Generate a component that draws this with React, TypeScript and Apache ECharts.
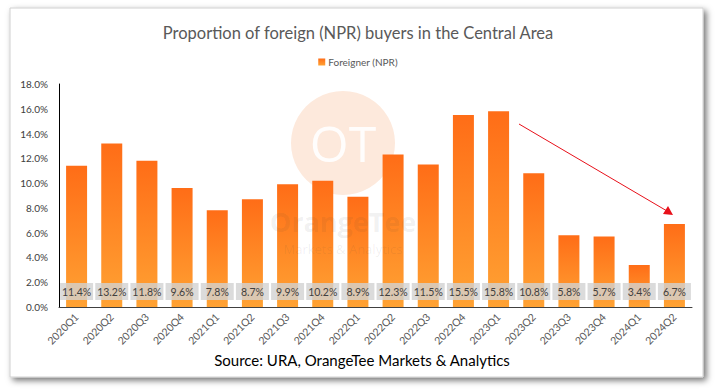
import React, { useEffect, useRef } from "react";
import * as echarts from "echarts";

const categories = [
  "2020Q1", "2020Q2", "2020Q3", "2020Q4",
  "2021Q1", "2021Q2", "2021Q3", "2021Q4",
  "2022Q1", "2022Q2", "2022Q3", "2022Q4",
  "2023Q1", "2023Q2", "2023Q3", "2023Q4",
  "2024Q1", "2024Q2",
];
const foreignerNPR = [
  11.4, 13.2, 11.8, 9.6, 7.8, 8.7, 9.9, 10.2, 8.9, 12.3, 11.5, 15.5, 15.8, 10.8, 5.8, 5.7, 3.4, 6.7,
];

const FONT = "Lato, 'Open Sans', sans-serif";

export default function App() {
  const ref = useRef<HTMLDivElement>(null);
  useEffect(() => {
    if (!ref.current) return;
    const chart = echarts.init(ref.current, undefined, { renderer: "svg" });
    chart.setOption({
      animation: false,
      backgroundColor: "#ffffff",
      title: {
        text: "Proportion of foreign (NPR) buyers in the Central Area",
        left: "center",
        top: 19,
        textStyle: { fontFamily: FONT, fontSize: 16.5, fontWeight: "normal", color: "#595959" },
      },
      legend: {
        top: 52,
        left: "center",
        itemWidth: 7,
        itemHeight: 7,
        itemGap: 4,
        icon: "rect",
        textStyle: { fontFamily: FONT, fontSize: 10, color: "#595959", padding: [0, 0, 0, -2] },
        data: ["Foreigner (NPR)"],
      },
      grid: { left: 59, right: 24, top: 84, bottom: 83 },
      xAxis: {
        type: "category",
        data: categories,
        axisLine: { lineStyle: { color: "#404040", width: 1 } },
        axisTick: { show: false },
        axisLabel: {
          rotate: 45,
          fontFamily: FONT,
          fontSize: 10.5,
          color: "#595959",
          margin: 8,
          interval: 0,
        },
      },
      yAxis: {
        type: "value",
        min: 0,
        max: 18,
        interval: 2,
        axisLine: { show: true, lineStyle: { color: "#000000", width: 1 } },
        axisTick: { show: false },
        splitLine: { show: false },
        axisLabel: {
          fontFamily: FONT,
          fontSize: 10,
          color: "#404040",
          margin: 11,
          formatter: (v: number) => v.toFixed(1) + "%",
        },
      },
      series: [
        {
          name: "Foreigner (NPR)",
          type: "bar",
          data: foreignerNPR,
          barWidth: 21,
          z: 2,
          itemStyle: {
            color: new echarts.graphic.LinearGradient(0, 0, 0, 1, [
              { offset: 0, color: "#ff6d17" },
              { offset: 1, color: "#ffa233" },
            ]),
          },
          label: {
            show: true,
            position: "insideBottom",
            distance: 7,
            fontFamily: FONT,
            fontSize: 10.5,
            color: "#404040",
            backgroundColor: "rgba(210,210,210,0.8)",
            padding: [3, 3, 3, 3],
            width: 27,
            align: "center",
            formatter: (p: any) => Number(p.value).toFixed(1) + "%",
          },
        },
      ],
      graphic: [
        {
          type: "rect",
          z: -10,
          shape: { x: 10, y: 8, width: 693, height: 369 },
          style: {
            fill: "#ffffff",
            stroke: "#d0d0d0",
            lineWidth: 1,
            shadowBlur: 6,
            shadowOffsetX: 3,
            shadowOffsetY: 3,
            shadowColor: "rgba(0,0,0,0.55)",
          },
        },
        {
          type: "circle",
          z: 0,
          shape: { cx: 343, cy: 143, r: 52 },
          style: { fill: "#fde9dc" },
        },
        {
          type: "text",
          z: 1,
          x: 343,
          y: 143,
          style: {
            text: "OT",
            fontFamily: "'Open Sans', sans-serif",
            fontSize: 50,
            fontWeight: "normal",
            fill: "rgba(255,255,255,0.9)",
            align: "center",
            verticalAlign: "middle",
          },
        },
        {
          type: "text",
          z: 100,
          x: 343,
          y: 221,
          style: {
            text: "OrangeTee",
            fontFamily: "'Open Sans', sans-serif",
            fontSize: 27,
            fontWeight: "bold",
            fill: "rgba(60,60,60,0.08)",
            align: "center",
            verticalAlign: "middle",
          },
        },
        {
          type: "text",
          z: 100,
          x: 343,
          y: 249,
          style: {
            text: "Markets & Analytics",
            fontFamily: "'Open Sans', sans-serif",
            fontSize: 13,
            fill: "rgba(60,60,60,0.08)",
            align: "center",
            verticalAlign: "middle",
          },
        },
        {
          type: "line",
          z: 100,
          shape: { x1: 519, y1: 124, x2: 667, y2: 211 },
          style: { stroke: "#e8101a", lineWidth: 1 },
        },
        {
          type: "polygon",
          z: 100,
          shape: { points: [[673, 215], [663, 214], [668, 206]] },
          style: { fill: "#e8101a" },
        },
        {
          type: "text",
          z: 100,
          x: 362,
          y: 360,
          style: {
            text: "Source: URA, OrangeTee Markets & Analytics",
            fontFamily: FONT,
            fontSize: 15,
            fill: "#000000",
            align: "center",
            verticalAlign: "middle",
          },
        },
      ],
    });
    return () => chart.dispose();
  }, []);
  return (
    <div
      ref={ref}
      style={{ position: "fixed", left: 0, top: 0, width: 716, height: 390 }}
    />
  );
}
